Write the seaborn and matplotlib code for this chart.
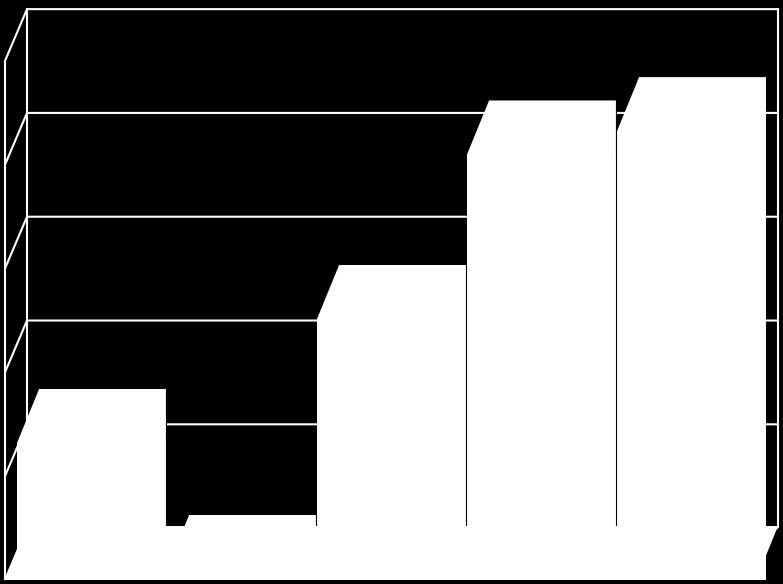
import matplotlib
matplotlib.use("Agg")
import matplotlib.pyplot as plt
import pandas as pd
import seaborn as sns

# no labels are visible in the chart, so the categories are just numbered
categories = ["1", "2", "3", "4", "5"]
values = [1.32, 0.106, 2.515, 4.10, 4.325]
grid_ticks = [0, 1, 2, 3, 4, 5]

# fake 3D box, in axis units (categories / value units)
DEPTH_X = 0.147
WALL_DEPTH_Y = 0.50
BAR_DEPTH_Y = 0.52
WALL_LEFT = -0.577
WALL_RIGHT = 4.43
LINE = dict(color="white", lw=1.5, solid_capstyle="butt", zorder=1)

sns.set_theme(style="white")
plt.rcParams.update({"figure.facecolor": "black", "axes.facecolor": "black"})

fig, ax = plt.subplots(figsize=(7.83, 5.84), dpi=100)
ax.set_position([0, 0, 1, 1])

df = pd.DataFrame({"category": categories, "value": values})
sns.barplot(data=df, x="category", y="value", color="white", saturation=1,
            width=0.993, linewidth=0, ax=ax, zorder=2)

# slanted top of each bar, clipped at the bar's right edge, black seam between bars
bars = ax.patches[:len(values)]
for i, bar in enumerate(bars):
    x0, x1, top = bar.get_x(), bar.get_x() + bar.get_width(), bar.get_height()
    ax.fill([x0, x0 + DEPTH_X, x1, x1, x0],
            [top, top + BAR_DEPTH_Y, top + BAR_DEPTH_Y, top - 0.05, top - 0.05],
            color="white", lw=0, zorder=2)
    if i < len(bars) - 1:
        ax.vlines(x1 + 0.0035, 0, top + BAR_DEPTH_Y, color="black", lw=0.8, zorder=2)

# back wall grid and left wall
back_left = WALL_LEFT + DEPTH_X
back_right = WALL_RIGHT + DEPTH_X
top_y = grid_ticks[-1] + WALL_DEPTH_Y
for t in grid_ticks:
    y = t + WALL_DEPTH_Y
    ax.plot([WALL_LEFT, back_left, back_right], [t, y, y], **LINE)
ax.plot([back_left, back_left], [WALL_DEPTH_Y, top_y + 0.01], **LINE)
ax.plot([back_right, back_right], [WALL_DEPTH_Y, top_y + 0.01], **LINE)
ax.plot([WALL_LEFT, WALL_LEFT], [0, grid_ticks[-1]], **LINE)

# floor sits on top of the bars
ax.fill([WALL_LEFT, back_left, back_right, WALL_RIGHT],
        [0, BAR_DEPTH_Y, BAR_DEPTH_Y, 0], color="white", lw=0, zorder=3)

ax.set_xlim(-0.61, 4.61)
ax.set_ylim(-0.0385, 5.588)
ax.axis("off")

fig.savefig("out.png", dpi=100, facecolor="black")
plt.close(fig)
